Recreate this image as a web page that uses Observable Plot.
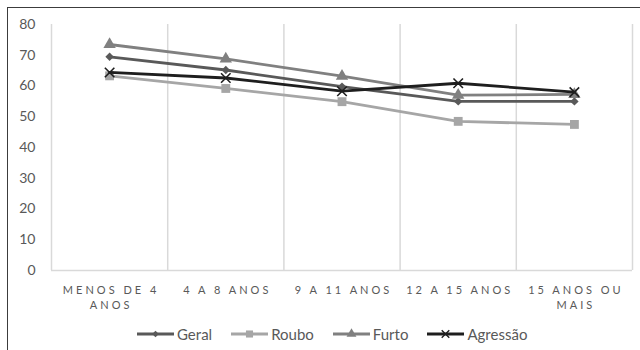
<!DOCTYPE html>
<html>
<head>
<meta charset="utf-8">
<script src="https://cdn.jsdelivr.net/npm/d3@7"></script>
<script src="https://cdn.jsdelivr.net/npm/@observablehq/plot@0.6"></script>
<style>
  body { margin: 0; background: #fff; font-family: Lato, "Open Sans", sans-serif; }
  #frame { position: absolute; left: 7px; top: 7px; width: 700px; height: 400px;
           border-left: 1.5px solid #3c3c3c; border-top: 1.5px solid #3c3c3c; }
  #chart { position: absolute; left: 0; top: 0; }
  #chart svg { overflow: visible; }
  .xlab text { letter-spacing: 3px; }
  #legend { position: absolute; top: 325px; left: 137px; display: flex; align-items: center;
            font-size: 15px; color: #595959; white-space: nowrap; }
  #legend .item { display: flex; align-items: center; margin-right: 19px; }
  #legend svg { margin-right: 3px; }
</style>
</head>
<body>
<div id="frame"></div>
<div id="chart"></div>
<div id="legend"></div>
<script>
// Age groups (x axis) and one value list per series
const categories = ["MENOS DE 4\nANOS", "4 A 8 ANOS", "9 A 11 ANOS", "12 A 15 ANOS", "15 ANOS OU\nMAIS"];
const seriesNames = ["Geral", "Roubo", "Furto", "Agressão"];
const geral    = [69.5, 65.2, 59.8, 55.0, 55.0];
const roubo    = [63.3, 59.2, 54.9, 48.5, 47.5];
const furto    = [73.5, 68.8, 63.2, 57.0, 57.3];
const agressao = [64.4, 62.6, 58.3, 60.9, 58.0];
const yTicks = [0, 10, 20, 30, 40, 50, 60, 70, 80];

const colors  = {"Geral": "#595959", "Roubo": "#a6a6a6", "Furto": "#808080", "Agressão": "#1e1e1e"};
const symbols = {"Geral": "diamond2", "Roubo": "square", "Furto": "triangle", "Agressão": "times"};
const radius  = {"Geral": 3.8, "Roubo": 5.0, "Furto": 4.6, "Agressão": 4.4};

const valuesBySeries = {"Geral": geral, "Roubo": roubo, "Furto": furto, "Agressão": agressao};
const rows = seriesNames.flatMap(s => valuesBySeries[s].map((v, i) => ({series: s, pos: i + 0.5, value: v})));

const marks = [
  Plot.ruleX(d3.range(categories.length + 1), {y1: 0, y2: 80, stroke: "#d9d9d9", strokeWidth: 1.5}),
  Plot.ruleY([0], {stroke: "#d9d9d9", strokeWidth: 1.5}),
  Plot.axisY({ticks: yTicks, tickSize: 0, tickPadding: 16, fontSize: 14, color: "#595959", label: null}),
  Plot.axisX({ticks: categories.map((c, i) => i + 0.5), tickFormat: (d) => categories[Math.floor(d)],
              tickSize: 0, tickPadding: 13, fontSize: 11, color: "#595959", lineHeight: 1.35,
              dx: 1.5, className: "xlab", label: null})
];
for (const s of seriesNames) {
  const data = rows.filter(d => d.series === s);
  marks.push(Plot.line(data, {x: "pos", y: "value", stroke: colors[s], strokeWidth: 2.8}));
  marks.push(Plot.dot(data, {x: "pos", y: "value", symbol: () => symbols[s], r: radius[s],
    fill: s === "Agressão" ? "none" : colors[s], stroke: s === "Agressão" ? colors[s] : "none",
    strokeWidth: 1.6}));
}

const chart = Plot.plot({
  width: 640, height: 318,
  marginLeft: 51, marginRight: 8, marginTop: 24, marginBottom: 48,
  style: {background: "transparent", fontFamily: "Lato, 'Open Sans', sans-serif"},
  x: {type: "linear", domain: [0, categories.length], axis: null},
  y: {domain: [0, 80], axis: null},
  symbol: {type: "identity"},
  marks
});
document.getElementById("chart").appendChild(chart);

// Legend: line swatch with the series marker, then the series name
const legend = d3.select("#legend");
for (const s of seriesNames) {
  const item = legend.append("div").attr("class", "item");
  const sw = item.append("svg").attr("width", 37).attr("height", 14);
  sw.append("line").attr("x1", 0).attr("x2", 37).attr("y1", 7).attr("y2", 7)
    .attr("stroke", colors[s]).attr("stroke-width", 2.8);
  const symType = {"diamond2": d3.symbolDiamond2, "square": d3.symbolSquare,
                   "triangle": d3.symbolTriangle, "times": d3.symbolTimes}[symbols[s]];
  const r = radius[s] * 0.8;
  sw.append("path").attr("transform", "translate(18.5,7)")
    .attr("d", d3.symbol(symType, Math.PI * r * r)())
    .attr("fill", s === "Agressão" ? "none" : colors[s])
    .attr("stroke", s === "Agressão" ? colors[s] : "none").attr("stroke-width", 1.4);
  item.append("span").text(s);
}
</script>
</body>
</html>
